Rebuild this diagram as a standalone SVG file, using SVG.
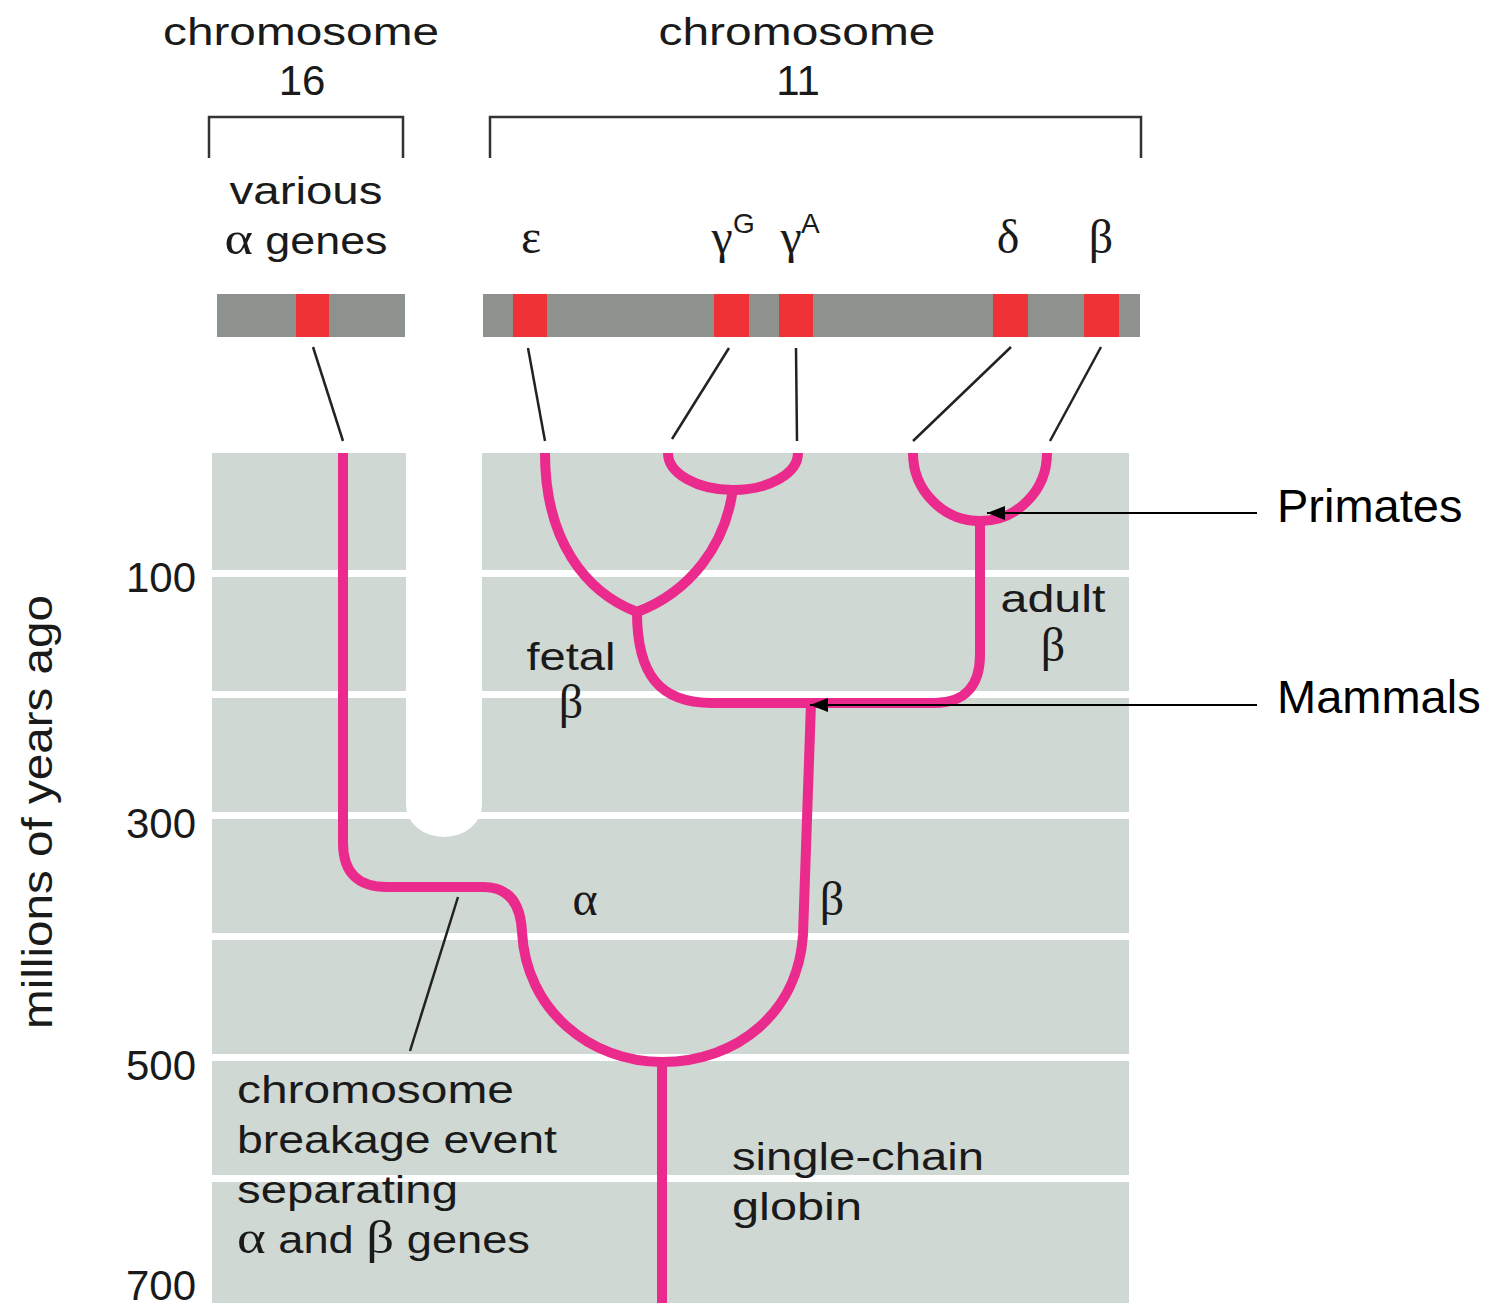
<svg xmlns="http://www.w3.org/2000/svg" width="1499" height="1309" viewBox="0 0 1499 1309">
<defs>
<style>
.t{font-family:"Liberation Sans",Arial,sans-serif;font-size:38px;fill:#1a1a1a}
.g{font-family:"Liberation Serif","Times New Roman",serif;font-size:48px;fill:#1a1a1a}
.gi{font-family:"Liberation Serif","Times New Roman",serif;font-size:46px}
.ax{font-family:"Liberation Sans",Arial,sans-serif;font-size:42px;fill:#1a1a1a;text-anchor:end}
.lab{font-family:"Liberation Sans",Arial,sans-serif;font-size:47px;fill:#000}
.num{font-size:42px}
.sup{font-size:28px}
.c{text-anchor:middle}
.pk{fill:none;stroke:#ea2a8c;stroke-width:10;stroke-linejoin:round}
.bl{fill:none;stroke:#222;stroke-width:2.5}
.br{fill:none;stroke:#333;stroke-width:2.5}
.bar{fill:#8e928f}
.red{fill:#ee3236}
.sep{fill:#fff}
</style>
<marker id="ah" viewBox="0 0 18 14" refX="18" refY="7" markerWidth="18" markerHeight="14" markerUnits="userSpaceOnUse" orient="auto">
<path d="M0,0 L18,7 L0,14 Z" fill="#000"/>
</marker>
</defs>
<rect width="1499" height="1309" fill="#fff"/>

<g id="panel">
<rect x="212" y="453" width="917" height="850" fill="#d0d8d3"/>
<path d="M406,453 L406,805 A38,32 0 0 0 482,805 L482,453 Z" fill="#fff"/>
<rect class="sep" x="212" y="570" width="917" height="7"/>
<rect class="sep" x="212" y="691" width="917" height="7"/>
<rect class="sep" x="212" y="812" width="917" height="7"/>
<rect class="sep" x="212" y="933" width="917" height="7"/>
<rect class="sep" x="212" y="1054" width="917" height="7"/>
<rect class="sep" x="212" y="1175" width="917" height="7"/>
</g>

<g id="chr16">
<text class="t c" x="301" y="45" textLength="276" lengthAdjust="spacingAndGlyphs">chromosome</text>
<text class="t c num" x="302" y="95">16</text>
<path class="br" d="M209,158 V117 H403 V158"/>
<text class="t c" x="306" y="204" textLength="153" lengthAdjust="spacingAndGlyphs">various</text>
<text class="t c" x="306" y="254" textLength="163" lengthAdjust="spacingAndGlyphs"><tspan class="gi">α</tspan> genes</text>
<rect class="bar" x="217" y="294" width="188" height="43"/>
<rect class="red" x="296" y="294" width="33" height="43"/>
</g>

<g id="chr11">
<text class="t c" x="797" y="45" textLength="277" lengthAdjust="spacingAndGlyphs">chromosome</text>
<text class="t c num" x="798" y="95">11</text>
<path class="br" d="M490,158 V117 H1141 V158"/>
<text class="g c" x="531" y="253">ε</text>
<text class="g c" x="722" y="253">γ</text>
<text class="t sup" x="733" y="233">G</text>
<text class="g c" x="791" y="253">γ</text>
<text class="t sup" x="801" y="233">A</text>
<text class="g c" x="1008" y="253">δ</text>
<text class="g c" x="1101" y="253">β</text>
<rect class="bar" x="483" y="294" width="657" height="43"/>
<rect class="red" x="513" y="294" width="34" height="43"/>
<rect class="red" x="714" y="294" width="35" height="43"/>
<rect class="red" x="779" y="294" width="34" height="43"/>
<rect class="red" x="993" y="294" width="35" height="43"/>
<rect class="red" x="1084" y="294" width="35" height="43"/>
</g>

<g id="axis">
<text class="ax" x="196" y="592">100</text>
<text class="ax" x="196" y="838">300</text>
<text class="ax" x="196" y="1080">500</text>
<text class="ax" x="196" y="1300">700</text>
<text class="t c num" x="0" y="0" transform="translate(52,812) rotate(-90)" textLength="434" lengthAdjust="spacingAndGlyphs">millions of years ago</text>
</g>

<g id="connectors">
<line class="bl" x1="313" y1="347" x2="343" y2="441"/>
<line class="bl" x1="528" y1="348" x2="545" y2="441"/>
<line class="bl" x1="729" y1="348" x2="672" y2="439"/>
<line class="bl" x1="796" y1="348" x2="797" y2="441"/>
<line class="bl" x1="1011" y1="347" x2="913" y2="441"/>
<line class="bl" x1="1101" y1="347" x2="1050" y2="441"/>
<line class="bl" x1="458" y1="897" x2="410" y2="1051" stroke-width="2"/>
</g>

<g id="tree">
<path class="pk" d="M343,453 L343,843 Q343,887 387,887 L483,887 Q520,887 522,932 C526,1010 590,1062 662,1062 C738,1062 798,1012 803,935 L811,703"/>
<path class="pk" d="M662,1060 L662,1303"/>
<path class="pk" d="M637,612 C637,675 660,703 712,703 L935,703 C965,703 980,685 980,655 L980,520"/>
<path class="pk" d="M545,453 C545,540 585,592 637,612"/>
<path class="pk" d="M733,488 C726,545 690,592 637,612"/>
<path class="pk" d="M668,453 A65,37 0 0 0 798,453"/>
<path class="pk" d="M913,453 A67,68 0 0 0 1047,453"/>
</g>

<g id="labels">
<text class="t c" x="571" y="670" textLength="89" lengthAdjust="spacingAndGlyphs">fetal</text>
<text class="g c" x="571" y="718">β</text>
<text class="t c" x="1053" y="612" textLength="105" lengthAdjust="spacingAndGlyphs">adult</text>
<text class="g c" x="1053" y="661">β</text>
<text class="g c" x="585" y="915">α</text>
<text class="g c" x="832" y="915">β</text>
<text class="t" x="237" y="1103" textLength="277" lengthAdjust="spacingAndGlyphs">chromosome</text>
<text class="t" x="237" y="1153" textLength="320" lengthAdjust="spacingAndGlyphs">breakage event</text>
<text class="t" x="237" y="1203" textLength="221" lengthAdjust="spacingAndGlyphs">separating</text>
<text class="t" x="237" y="1253" textLength="293" lengthAdjust="spacingAndGlyphs"><tspan class="gi">α</tspan> and <tspan class="gi">β</tspan> genes</text>
<text class="t" x="732" y="1170" textLength="252" lengthAdjust="spacingAndGlyphs">single-chain</text>
<text class="t" x="732" y="1220" textLength="130" lengthAdjust="spacingAndGlyphs">globin</text>
</g>

<g id="primates">
<line x1="1257" y1="513" x2="987" y2="513" stroke="#000" stroke-width="2" marker-end="url(#ah)"/>
<text class="lab" x="1277" y="522">Primates</text>
</g>
<g id="mammals">
<line x1="1257" y1="705" x2="810" y2="705" stroke="#000" stroke-width="2" marker-end="url(#ah)"/>
<text class="lab" x="1277" y="713">Mammals</text>
</g>
</svg>
